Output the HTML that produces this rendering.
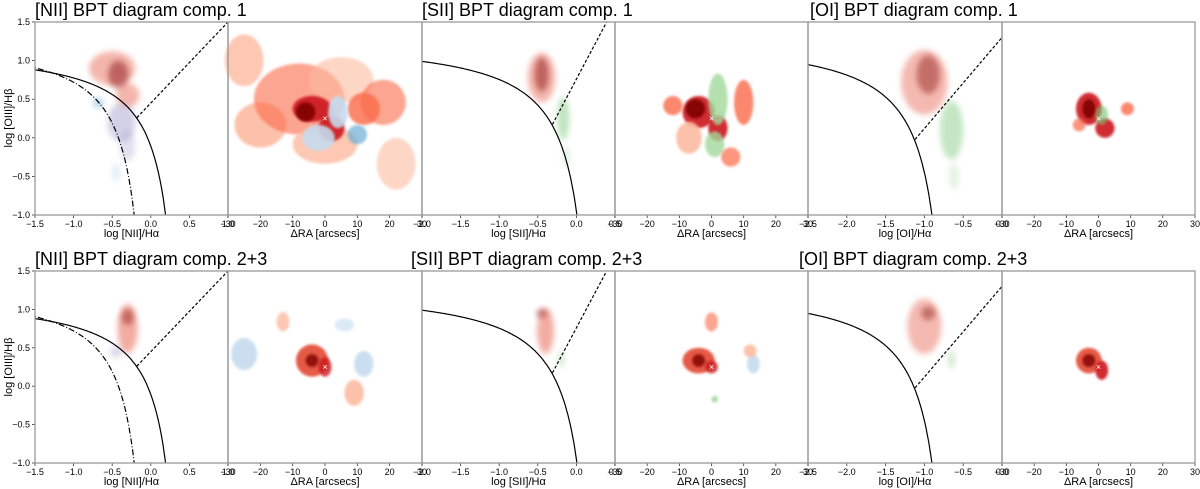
<!DOCTYPE html>
<html><head><meta charset="utf-8">
<style>
html,body{margin:0;padding:0;background:#fff;}
svg{display:block;font-family:"Liberation Sans",sans-serif;}
</style></head>
<body>
<svg id="fig" width="1200" height="489" viewBox="0 0 1200 489" xmlns="http://www.w3.org/2000/svg">
<defs>
<filter id="soft" x="-50%" y="-50%" width="200%" height="200%"><feGaussianBlur stdDeviation="3"/></filter>
<filter id="soft2" x="-50%" y="-50%" width="200%" height="200%"><feGaussianBlur stdDeviation="1.2"/></filter>
</defs>
</svg>
<script>
// ---- data ----
const colors = ["#e34a33","#7f0000","#9e9ac8","#6baed6","#74c476","#fcbba1","#fb6a4a","#c6dbef","#cb181d","#a1d99b"];
const bptTicksX_NII = [-1.5,-1.0,-0.5,0.0,0.5,1.0];
const bptTicksX_SII = [-2.0,-1.5,-1.0,-0.5,0.0,0.5];
const bptTicksX_OI = [-2.5,-2.0,-1.5,-1.0,-0.5,0.0];
const bptTicksY = [-1.0,-0.5,0.0,0.5,1.0,1.5];
const mapTicksX = [-30,-20,-10,0,10,20,30];
// blobs: [x, y, sx, sy, colorIdx, opacity]
const nii1 = [[-0.5,0.9,0.3,0.22,0,0.4],[-0.42,0.82,0.13,0.18,1,0.45],[-0.3,0.55,0.15,0.16,0,0.4],[-0.38,0.2,0.18,0.25,2,0.45],[-0.3,-0.1,0.1,0.2,2,0.3],[-0.68,0.45,0.07,0.07,3,0.45],[-0.45,-0.45,0.05,0.12,3,0.2]];
const sii1 = [[-0.45,0.78,0.18,0.32,0,0.4],[-0.45,0.82,0.09,0.22,1,0.45],[-0.17,0.25,0.08,0.28,4,0.45],[-0.13,-0.25,0.05,0.15,4,0.2]];
const oi1 = [[-1.0,0.72,0.3,0.42,0,0.38],[-0.95,0.82,0.15,0.25,1,0.4],[-0.65,0.1,0.15,0.38,4,0.42],[-0.62,-0.5,0.06,0.18,4,0.2]];
const nii2 = [[-0.3,0.75,0.13,0.32,0,0.45],[-0.3,0.9,0.08,0.1,1,0.4],[-0.45,0.45,0.08,0.08,2,0.35]];
const sii2 = [[-0.4,0.72,0.11,0.3,0,0.45],[-0.45,0.95,0.07,0.06,1,0.4],[-0.2,0.35,0.04,0.1,4,0.35]];
const oi2 = [[-1.0,0.78,0.22,0.36,0,0.38],[-0.95,0.95,0.09,0.09,1,0.4],[-0.65,0.35,0.05,0.12,4,0.3]];
// map blobs: [ra, dec, rx, ry, colorIdx, opacity]
const niiMap1 = [[-25,18,6,8,5,0.8],[-20,-2,8,7,5,0.9],[-8,6,14,11,6,0.6],[5,12,10,7,5,0.6],[18,5,7,7,6,0.6],[22,-14,6,8,5,0.6],[0,-8,10,6,5,0.8],[12,3,5,5,6,0.8],[-4,3,6,4,8,0.9],[2,-3,4,4,8,0.9],[-6,2,3,3,1,0.9],[4,2,3,5,7,0.9],[-2,-6,5,4,7,0.9],[10,-5,3,3,3,0.7]];
const siiMap1 = [[-4,2,5,5,8,0.9],[-5,3,3,3,1,0.9],[2,-3,3,4,8,0.9],[2,6,3,8,9,0.8],[1,-8,3,4,9,0.8],[-12,4,3,3,6,0.8],[10,5,3,7,6,0.8],[-7,-6,4,5,5,0.9],[6,-12,3,3,6,0.7]];
const oiMap1 = [[-3,3,4,5,8,0.9],[-3,3,2,3,1,0.9],[2,-3,3,3,8,0.9],[1,1,2,3,4,0.6],[9,3,2,2,6,0.8],[-6,-2,2,2,6,0.7]];
const niiMap2 = [[-4,2,5,5,0,0.9],[-4,2,2,2,1,0.8],[0,0,2,3,8,0.8],[-25,4,4,5,7,0.9],[12,1,3,4,7,0.9],[9,-8,3,4,5,0.9],[-13,14,2,3,5,0.8],[6,13,3,2,7,0.6]];
const siiMap2 = [[-4,2,5,4,0,0.9],[-4,2,2,2,1,0.8],[0,0,2,2,8,0.8],[13,1,2,3,7,0.9],[12,5,2,2,5,0.9],[0,14,2,3,6,0.6],[1,-10,1,1,9,0.9]];
const oiMap2 = [[-3,2,4,4,0,0.9],[-3,2,2,2,1,0.8],[1,-1,2,3,8,0.9]];

// ---- layout ----
const rows = [{top:22,bot:215},{top:271,bot:463}];
const cols = [35,228,422,615,808,1002,1195];
const svg = document.getElementById('fig');
const NS = "http://www.w3.org/2000/svg";
function mk(tag, attrs, parent){ const e=document.createElementNS(NS,tag); for(const k in attrs) e.setAttribute(k,attrs[k]); (parent||svg).appendChild(e); return e; }
function txt(x,y,s,size,anchor,parent){ const t=mk('text',{x:x,y:y,'font-size':size,'text-anchor':anchor||'middle',fill:'#000'},parent); t.textContent=s; return t; }

function bptPanel(r,c,xmin,xmax,ticks,blobs,lines,xlabel,name){
  const x0=cols[c], x1=cols[c+1], top=rows[r].top, bot=rows[r].bot;
  const g=mk('g',{});
  
  
  const sx=v=>x0+(v-xmin)/(xmax-xmin)*(x1-x0);
  const sy=v=>bot-(v+1.0)/2.5*(bot-top);
  const cp=mk('clipPath',{id:'cp'+name},g);
  mk('rect',{x:x0,y:top,width:x1-x0,height:bot-top},cp);
  const inner=mk('g',{'clip-path':'url(#cp'+name+')'},g);
  blobs.forEach(b=>{
    const e=mk('ellipse',{cx:sx(b[0]),cy:sy(b[1]),rx:Math.abs(sx(b[0]+b[2])-sx(b[0])),ry:Math.abs(sy(b[1]+b[3])-sy(b[1])),fill:colors[b[4]],opacity:b[5],filter:'url(#soft)'},inner);
    
    
  });
  lines.forEach(L=>{
    let d='';
    for(let i=0;i<=200;i++){ const xv=L.from+(L.to-L.from)*i/200; const yv=L.f(xv); if(yv<-1.2||yv>1.7) continue; d+=(d?'L':'M')+sx(xv).toFixed(1)+','+sy(yv).toFixed(1); }
    const p=mk('path',{d:d,fill:'none',stroke:'#000','stroke-width':1.2,'stroke-dasharray':L.dash||''},inner);
    
    
  });
  ticks.forEach(t=>{ mk('line',{x1:sx(t),x2:sx(t),y1:bot,y2:bot+3,stroke:'#333','stroke-width':0.8},g); txt(sx(t),bot+12,(t<0?'\u2212':'')+Math.abs(t).toFixed(1),9,'middle',g); });
  if(c===0){ bptTicksY.forEach(t=>{ mk('line',{x1:x0-3,x2:x0,y1:sy(t),y2:sy(t),stroke:'#333','stroke-width':0.8},g); txt(x0-5,sy(t)+3,(t<0?'\u2212':'')+Math.abs(t).toFixed(1),9,'end',g); }); }
  mk('rect',{x:x0,y:top,width:x1-x0,height:bot-top,fill:'none',stroke:'#999','stroke-width':1.3},g);
  const xl=txt((x0+x1)/2,bot+22,xlabel,11,'middle',g);
  
  
}
function mapPanel(r,c,blobs,name){
  const x0=cols[c], x1=cols[c+1], top=rows[r].top, bot=rows[r].bot;
  const g=mk('g',{});
  
  
  const sx=v=>x0+(v+30)/60*(x1-x0);
  const cy=(top+bot)/2, k=(x1-x0)/60;
  const sy=v=>cy-v*k;
  blobs.forEach(b=>{
    const e=mk('ellipse',{cx:sx(b[0]),cy:sy(b[1]),rx:b[2]*k,ry:b[3]*k,fill:colors[b[4]],opacity:b[5],filter:'url(#soft2)'},g);
    
    
  });
  const m=txt(sx(0),sy(0)+3,'\u00d7',9,'middle',g); m.setAttribute('fill','#fff');
  
  
  mapTicksX.forEach(t=>{ mk('line',{x1:sx(t),x2:sx(t),y1:bot,y2:bot+3,stroke:'#333','stroke-width':0.8},g); txt(sx(t),bot+12,(t<0?'\u2212':'')+Math.abs(t),9,'middle',g); });
  mk('rect',{x:x0,y:top,width:x1-x0,height:bot-top,fill:'none',stroke:'#999','stroke-width':1.3},g);
  const xl=txt((x0+x1)/2,bot+22,'\u0394RA [arcsecs]',11,'middle',g);
  
  
}
const niiLines=[{name:'kauffmann-line',from:-1.6,to:0.04,f:x=>0.61/(x-0.05)+1.3,dash:'6,2,1,2'},{name:'kewley-line',from:-1.6,to:0.46,f:x=>0.61/(x-0.47)+1.19},{name:'seyfert-liner-line',from:-0.18,to:1.0,f:x=>1.05*x+0.45,dash:'3,2'}];
const siiLines=[{name:'kewley-line',from:-2.1,to:0.31,f:x=>0.72/(x-0.32)+1.30},{name:'seyfert-liner-line',from:-0.31,to:0.5,f:x=>1.89*x+0.76,dash:'3,2'}];
const oiLines=[{name:'kewley-line',from:-2.6,to:-0.6,f:x=>0.73/(x+0.59)+1.33},{name:'seyfert-liner-line',from:-1.12,to:0.0,f:x=>1.18*x+1.30,dash:'3,2'}];

bptPanel(0,0,-1.5,1.0,bptTicksX_NII,nii1,niiLines,'log [NII]/H\u03b1','nii-bpt-comp1');
mapPanel(0,1,niiMap1,'nii-map-comp1');
bptPanel(0,2,-2.0,0.5,bptTicksX_SII,sii1,siiLines,'log [SII]/H\u03b1','sii-bpt-comp1');
mapPanel(0,3,siiMap1,'sii-map-comp1');
bptPanel(0,4,-2.5,0.0,bptTicksX_OI,oi1,oiLines,'log [OI]/H\u03b1','oi-bpt-comp1');
mapPanel(0,5,oiMap1,'oi-map-comp1');
bptPanel(1,0,-1.5,1.0,bptTicksX_NII,nii2,niiLines,'log [NII]/H\u03b1','nii-bpt-comp23');
mapPanel(1,1,niiMap2,'nii-map-comp23');
bptPanel(1,2,-2.0,0.5,bptTicksX_SII,sii2,siiLines,'log [SII]/H\u03b1','sii-bpt-comp23');
mapPanel(1,3,siiMap2,'sii-map-comp23');
bptPanel(1,4,-2.5,0.0,bptTicksX_OI,oi2,oiLines,'log [OI]/H\u03b1','oi-bpt-comp23');
mapPanel(1,5,oiMap2,'oi-map-comp23');

const titles=[[35,16,'[NII] BPT diagram comp. 1'],[422,16,'[SII] BPT diagram comp. 1'],[810,16,'[OI] BPT diagram comp. 1'],[35,265,'[NII] BPT diagram comp. 2+3'],[411,265,'[SII] BPT diagram comp. 2+3'],[799,265,'[OI] BPT diagram comp. 2+3']];
titles.forEach(t=>{ const e=txt(t[0],t[1],t[2],18,'start');   });
[118,367].forEach(y=>{ const e=txt(0,0,'log [OIII]/H\u03b2',11,'middle'); e.setAttribute('transform','translate(12,'+y+') rotate(-90)');   });
</script>
</body></html>
